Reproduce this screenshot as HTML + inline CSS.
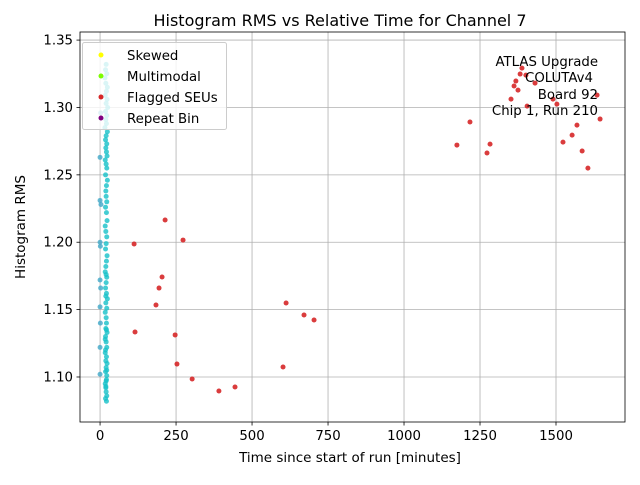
<!DOCTYPE html>
<html><head><meta charset="utf-8"><style>
body{margin:0;background:#fff;font-family:"Liberation Sans","DejaVu Sans",sans-serif}
svg text{font-family:"DejaVu Sans","Liberation Sans",sans-serif}
</style></head><body>
<svg id="c" width="640" height="480">
<rect width="640" height="480" fill="#fff"/>
</svg>
<script>
const xTicks=[0,250,500,750,1000,1250,1500];
const yTicks=[1.10,1.15,1.20,1.25,1.30,1.35];
const redX=[112,214,273,204,194,184,115,247,253,303,391,444,602,612,671,704,1174,1217,1273,1283,1388,1382,1401,1368,1362,1375,1431,1352,1405,1490,1503,1635,1645,1523,1553,1569,1586,1605];
const redY=[1.1987,1.2165,1.2016,1.1742,1.166,1.1534,1.1334,1.1312,1.1096,1.0985,1.0896,1.0926,1.1074,1.1549,1.146,1.1423,1.2721,1.2892,1.2662,1.2728,1.3292,1.3248,1.324,1.3196,1.3159,1.3129,1.3181,1.3062,1.301,1.3062,1.3025,1.3092,1.2914,1.2743,1.2795,1.2869,1.2677,1.255];
const cyanX=[20,18,22,16,19,24,21,17,23,20,25,18,22,19,21,16,24,20,18,22,0,2,19,21,23,17,20,22,18,24,21,19,0,3,20,22,18,21,23,17,19,22,0,1,20,18,23,21,19,17,22,20,0,2,18,21,24,19,22,17,20,0,1,21,19,23,18,20,22,17,21,0,19,23,20,18,22,21,17,19,20,22,0,18,21,19,20,22,18,17,21,19,20];
const cyanY=[1.332,1.328,1.325,1.322,1.318,1.315,1.312,1.309,1.306,1.303,1.300,1.297,1.294,1.291,1.288,1.285,1.282,1.279,1.276,1.273,1.263,1.296,1.270,1.267,1.264,1.261,1.258,1.255,1.250,1.246,1.242,1.238,1.231,1.228,1.234,1.230,1.226,1.222,1.216,1.212,1.208,1.204,1.200,1.197,1.199,1.195,1.190,1.186,1.182,1.178,1.174,1.170,1.172,1.166,1.166,1.162,1.158,1.155,1.151,1.148,1.144,1.152,1.140,1.140,1.136,1.133,1.130,1.126,1.122,1.118,1.115,1.122,1.112,1.110,1.107,1.104,1.101,1.098,1.095,1.092,1.089,1.086,1.102,1.084,1.082,1.093,1.097,1.105,1.120,1.128,1.135,1.160,1.176];
const L=80,R=625,T=32,B=422,xmin=-66,xmax=1727,ymin=1.0666,ymax=1.356;
const X=v=>L+(v-xmin)/(xmax-xmin)*(R-L), Y=v=>B-(v-ymin)/(ymax-ymin)*(B-T);
const s=document.getElementById('c'),NS='http://www.w3.org/2000/svg';
function mk(t,a,p){const e=document.createElementNS(NS,t);for(const k in a)e.setAttribute(k,a[k]);(p||s).appendChild(e);return e;}
xTicks.forEach(v=>{
const g=mk('line',{x1:X(v),x2:X(v),y1:T,y2:B,stroke:'#b0b0b0','stroke-width':0.8});


const tk=mk('line',{x1:X(v),x2:X(v),y1:B,y2:B+3.5,stroke:'#000','stroke-width':0.8});


const t=mk('text',{x:X(v),y:B+18,'text-anchor':'middle','font-size':13.3});t.textContent=v;


});
yTicks.forEach(v=>{
const g=mk('line',{x1:L,x2:R,y1:Y(v),y2:Y(v),stroke:'#b0b0b0','stroke-width':0.8});


const tk=mk('line',{x1:L-3.5,x2:L,y1:Y(v),y2:Y(v),stroke:'#000','stroke-width':0.8});


const t=mk('text',{x:L-7,y:Y(v)+4.5,'text-anchor':'end','font-size':13.3});t.textContent=v.toFixed(2);


});
cyanX.forEach((v,i)=>{
const c=mk('circle',{cx:X(v),cy:Y(cyanY[i]),r:2.5,fill:v<5?'#3fa8c8':'#17c0c8','fill-opacity':0.8});


});
redX.forEach((v,i)=>{
const c=mk('circle',{cx:X(v),cy:Y(redY[i]),r:2.5,fill:'#d62728','fill-opacity':0.9});


});
</script>
<svg width="640" height="480" style="position:absolute;left:0;top:0">
<rect x="80" y="32" width="545" height="390" fill="none" stroke="#000" stroke-width="0.8"/>
<g>
<rect x="82.5" y="42.5" width="144" height="87" rx="2" fill="#fff" fill-opacity="0.8" stroke="#ccc"/>
<circle cx="101" cy="55" r="2.5" fill="#ffff00"/>
<text x="127" y="60" font-size="13.3">Skewed</text>
<circle cx="101" cy="76" r="2.5" fill="#7cfc00"/>
<text x="127" y="81" font-size="13.3">Multimodal</text>
<circle cx="101" cy="97" r="2.5" fill="#d62728"/>
<text x="127" y="102" font-size="13.3">Flagged SEUs</text>
<circle cx="101" cy="118" r="2.5" fill="#800080"/>
<text x="127" y="123" font-size="13.3">Repeat Bin</text>
</g>
<g font-size="13.3" text-anchor="end">
<text x="598" y="66">ATLAS Upgrade</text>
<text x="593" y="82">COLUTAv4</text>
<text x="598" y="99">Board 92</text>
<text x="598" y="115">Chip 1, Run 210</text>
</g>
<text x="340" y="26" font-size="16" text-anchor="middle">Histogram RMS vs Relative Time for Channel 7</text>
<text x="350" y="462" font-size="13.5" text-anchor="middle">Time since start of run [minutes]</text>
<text x="25" y="227" font-size="13.5" text-anchor="middle" transform="rotate(-90 25 227)">Histogram RMS</text>
</svg>
</body></html>
